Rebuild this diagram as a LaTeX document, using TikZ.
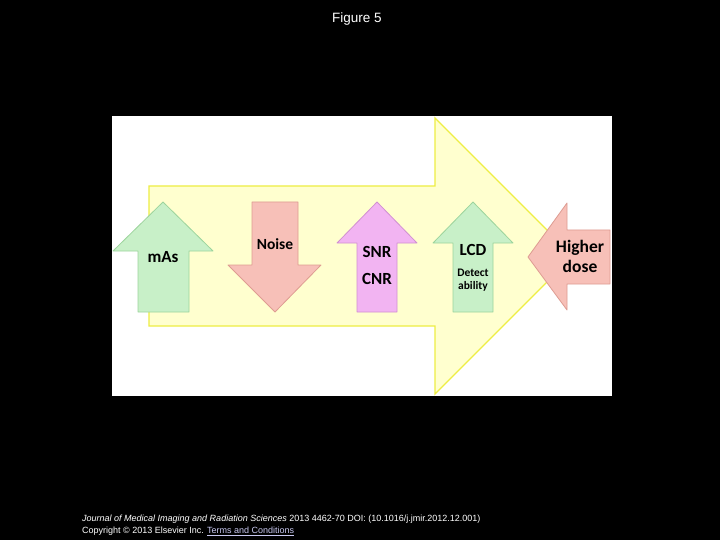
\documentclass[tikz,border=0pt]{standalone}
\usepackage{fontspec}
\setmainfont{Carlito}
\newfontfamily\arialfont{Liberation Sans}
\usetikzlibrary{calc,positioning}
\definecolor{yelfill}{HTML}{FFFFCF}
\definecolor{yelline}{HTML}{EEEE44}
\definecolor{grnfill}{HTML}{C8F0C8}
\definecolor{grnline}{HTML}{9CD49C}
\definecolor{pnkfill}{HTML}{F7C0B8}
\definecolor{pnkline}{HTML}{DE9C92}
\definecolor{magfill}{HTML}{F2B4F2}
\definecolor{magline}{HTML}{D190D1}
\definecolor{linkcol}{HTML}{C8C8F0}

\begin{document}
\begin{tikzpicture}[x=1pt,y=-1pt,
  greenarr/.style={fill=grnfill,draw=grnline,line width=0.8pt,line join=round},
  pinkarr/.style={fill=pnkfill,draw=pnkline,line width=0.8pt,line join=round},
  magarr/.style={fill=magfill,draw=magline,line width=0.8pt,line join=round},
  lbl/.style={text=black,inner sep=0pt},
  foot/.style={anchor=west,text=white,inner sep=0pt,font=\arialfont\fontsize{9}{11}\selectfont}]
\fill[black] (0,0) rectangle (720,540);
\useasboundingbox (0,0) rectangle (720,540);
\fill[white] (112,116) rectangle (612,396);
% big yellow arrow
\draw[fill=yelfill,draw=yelline,line width=1.4pt,line join=miter]
  (149,186)--(435,186)--(435,118)--(573,256)--(435,394)--(435,326)--(149,326)--cycle;
% small arrows
\draw[greenarr] (138,312)--(138,251)--(113,251)--(163,202)--(213,251)--(189,251)--(189,312)--cycle;
\draw[pinkarr] (252,202)--(298,202)--(298,265)--(321,265)--(275,312)--(228,265)--(252,265)--cycle;
\draw[magarr] (357,312)--(357,243)--(337,243)--(377,202)--(417,243)--(397,243)--(397,312)--cycle;
\draw[greenarr] (453,312)--(453,243)--(433,243)--(473,202)--(513,243)--(493,243)--(493,312)--cycle;
\draw[pinkarr] (610,230)--(567,230)--(567,203)--(528,257)--(567,310)--(567,284)--(610,284)--cycle;
% labels
\node[lbl,font=\bfseries\fontsize{17}{19}\selectfont] (mas) at (163,257) {mAs};
\node[lbl,font=\bfseries\fontsize{15.5}{17}\selectfont] (noise) at (275,244) {Noise};
\node[lbl,font=\bfseries\fontsize{17}{19}\selectfont] (snr) at (377,252) {SNR};
\node[lbl,font=\bfseries\fontsize{17}{19}\selectfont] (cnr) at (377,279) {CNR};
\node[lbl,font=\bfseries\fontsize{17}{19}\selectfont] (lcd) at (473,250) {LCD};
\node[lbl,font=\bfseries\fontsize{11.5}{13}\selectfont,align=center] (detect) at (473,280.5) {Detect\\ability};
\node[lbl,font=\bfseries\fontsize{17.5}{20}\selectfont,align=center] (dose) at (580,256) {Higher\\dose};
% captions
\node[text=white,font=\arialfont\fontsize{13.5}{15}\selectfont] (title) at (357,19) {Figure 5};
\node[foot] (jrnl) at (82,519) {\textit{Journal of Medical Imaging and Radiation Sciences} 2013 4462-70 DOI: (10.1016/j.jmir.2012.12.001)};
\node[foot] (copy) at (82,531) {Copyright © 2013 Elsevier Inc. \textcolor{linkcol}{\underline{Terms and Conditions}}};
\end{tikzpicture}
\end{document}
